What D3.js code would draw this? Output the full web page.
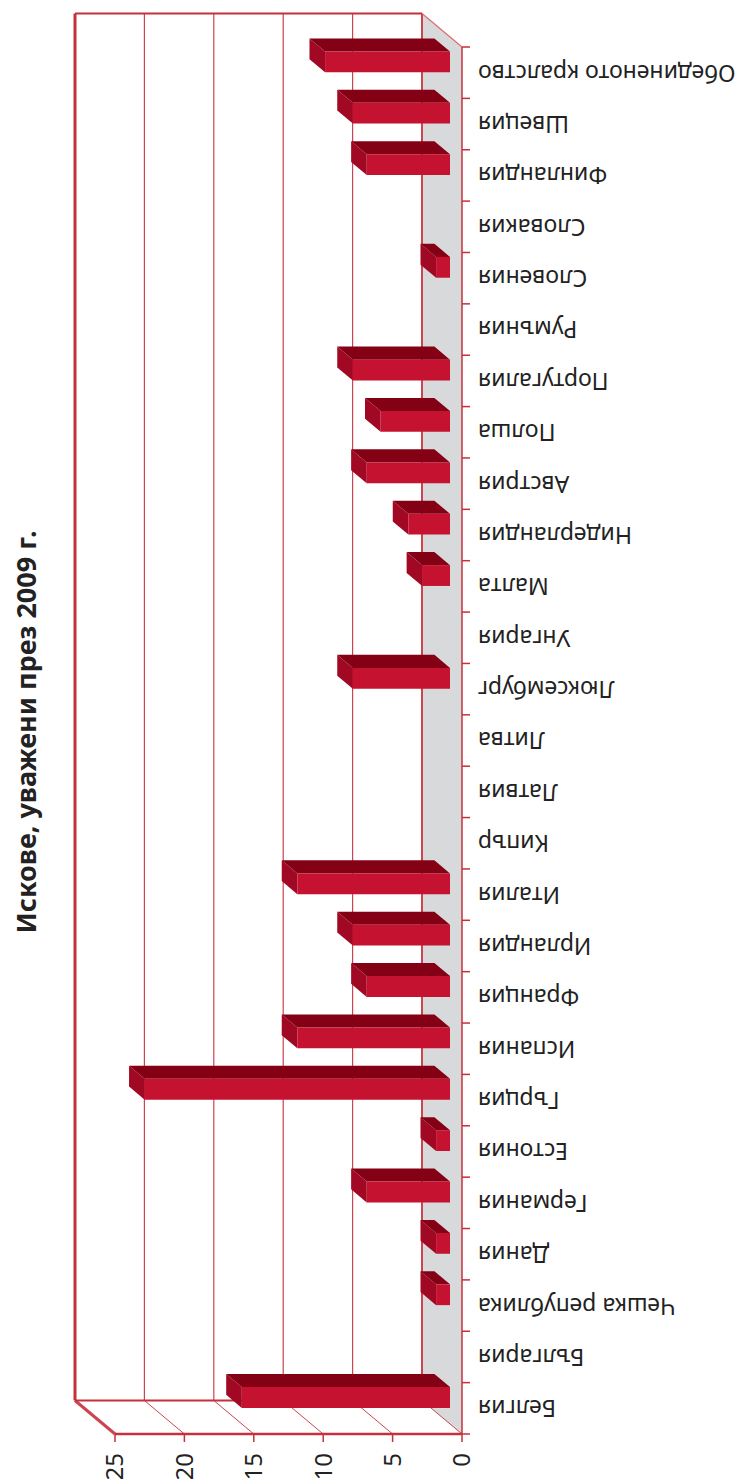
<!DOCTYPE html>
<html>
<head>
<meta charset="utf-8">
<script src="https://cdn.jsdelivr.net/npm/d3@7"></script>
<style>
  body { margin: 0; background: #fff; }
  svg { display: block; font-family: "Noto Sans", sans-serif; }
</style>
</head>
<body>
<div id="chart"></div>
<script>
const countries = ["Белгия", "България", "Чешка република", "Дания", "Германия", "Естония",
  "Гърция", "Испания", "Франция", "Ирландия", "Италия", "Кипър", "Латвия", "Литва",
  "Люксембург", "Унгария", "Малта", "Нидерландия", "Австрия", "Полша", "Португалия",
  "Румъния", "Словения", "Словакия", "Финландия", "Швеция", "Обединеното кралство"];
const values = [15, 0, 1, 1, 6, 1, 22, 11, 6, 7, 11, 0, 0, 0, 7, 0, 2, 3, 6, 5, 7, 0, 1, 0, 6, 7, 9];
const ticks = [0, 5, 10, 15, 20, 25];
const title = "Искове, уважени през 2009 г.";

const W = 736, H = 1479;
const red = "#c5303c", gridRed = "#cc4450";
// depth vector of the 3D box (front -> back)
const DX = -40, DY = -33.5;

const svg = d3.select("#chart").append("svg").attr("width", W).attr("height", H);

// value scale on the front plane (the chart is turned: 0 on the right)
const x = d3.scaleLinear().domain([0, 25]).range([462, 115]);
const y = d3.scaleBand().domain(countries).range([1434, 47]);
const P = (v, yy, d) => [x(v) + d * DX, yy + d * DY];

const yTop = y.range()[1], yBot = y.range()[0];

// floor (grey)
svg.append("polygon")
  .attr("points", [P(0, yTop, 0), P(0, yTop, 1), P(0, yBot, 1), P(0, yBot, 0)].join(" "))
  .attr("fill", "#d8d9db");

// back wall
svg.append("rect")
  .attr("x", x(25) + DX).attr("y", yTop + DY)
  .attr("width", x(0) - x(25)).attr("height", yBot - yTop)
  .attr("fill", "#fff");

// side wall (bottom)
svg.append("polygon")
  .attr("points", [P(25, yBot, 1), P(0, yBot, 1), P(0, yBot, 0), P(25, yBot, 0)].join(" "))
  .attr("fill", "#fff");

// grid lines on back wall and side wall
svg.selectAll(".vgrid").data(ticks).enter().append("line")
  .attr("x1", d => P(d, yTop, 1)[0]).attr("y1", yTop + DY)
  .attr("x2", d => P(d, yBot, 1)[0]).attr("y2", yBot + DY)
  .attr("stroke", (d) => d === 25 ? red : gridRed)
  .attr("stroke-width", d => d === 25 ? 3 : d === 0 ? 2 : 1.2);

svg.selectAll(".dgrid").data(ticks).enter().append("line")
  .attr("x1", d => P(d, yBot, 1)[0]).attr("y1", d => P(d, yBot, 1)[1])
  .attr("x2", d => P(d, yBot, 0)[0]).attr("y2", d => P(d, yBot, 0)[1])
  .attr("stroke", gridRed)
  .attr("stroke-width", d => d === 25 ? 3 : 1);

// outline of the box
svg.append("line")
  .attr("x1", x(25) + DX).attr("y1", yTop + DY).attr("x2", x(0) + DX).attr("y2", yTop + DY)
  .attr("stroke", red).attr("stroke-width", 2);
svg.append("line")
  .attr("x1", x(0) + DX).attr("y1", yTop + DY).attr("x2", x(0)).attr("y2", yTop)
  .attr("stroke", "#e06a70").attr("stroke-width", 1.2);
svg.append("line")
  .attr("x1", x(25) + DX).attr("y1", yBot + DY).attr("x2", x(0) + DX).attr("y2", yBot + DY)
  .attr("stroke", red).attr("stroke-width", 2);
svg.append("line")
  .attr("x1", x(25)).attr("y1", yBot).attr("x2", x(0)).attr("y2", yBot)
  .attr("stroke", red).attr("stroke-width", 2.5);

// category axis (right)
svg.append("line")
  .attr("x1", x(0)).attr("y1", yTop).attr("x2", x(0)).attr("y2", yBot)
  .attr("stroke", red).attr("stroke-width", 1.5);
const bounds = countries.map(c => y(c)).concat([yBot]);
svg.selectAll(".ctick").data(bounds).enter().append("line")
  .attr("x1", x(0)).attr("x2", x(0) + 8)
  .attr("y1", d => d).attr("y2", d => d)
  .attr("stroke", red).attr("stroke-width", 1.5);

// value ticks (bottom)
svg.selectAll(".vtick").data(ticks).enter().append("line")
  .attr("x1", d => x(d)).attr("x2", d => x(d))
  .attr("y1", yBot).attr("y2", yBot + 8)
  .attr("stroke", red).attr("stroke-width", 1.5);

svg.selectAll(".vlabel").data(ticks).enter().append("text")
  .attr("transform", d => `translate(${x(d)},${yBot + 19}) rotate(-90)`)
  .attr("text-anchor", "end")
  .attr("dy", "0.35em")
  .attr("font-size", 24)
  .attr("fill", "#222")
  .text(d => d);

// bars
const bf = 0.3, bb = 0.69, off = 14.5, bh = 20.8;
const data = countries.map((c, i) => ({ c, v: values[i] })).filter(d => d.v > 0);
const bar = svg.selectAll(".bar").data(data).enter().append("g");

bar.append("polygon") // upper side
  .attr("points", d => {
    const t = y(d.c) + off;
    return [P(d.v, t, bf), P(0, t, bf), P(0, t, bb), P(d.v, t, bb)].join(" ");
  })
  .attr("fill", "#840015");

bar.append("polygon") // end cap
  .attr("points", d => {
    const t = y(d.c) + off;
    return [P(d.v, t, bf), P(d.v, t + bh, bf), P(d.v, t + bh, bb), P(d.v, t, bb)].join(" ");
  })
  .attr("fill", "#a00824");

bar.append("polygon") // front face
  .attr("points", d => {
    const t = y(d.c) + off;
    return [P(d.v, t, bf), P(0, t, bf), P(0, t + bh, bf), P(d.v, t + bh, bf)].join(" ");
  })
  .attr("fill", "#c41230");

// category labels (upside down)
svg.selectAll(".clabel").data(countries).enter().append("text")
  .attr("transform", d => `translate(${x(0) + 16},${y(d) + y.bandwidth() / 2}) rotate(180)`)
  .attr("text-anchor", "end")
  .attr("dy", "0.35em")
  .attr("font-size", 23)
  .attr("fill", "#222")
  .text(d => d);

// title
svg.append("text")
  .attr("transform", "translate(27,732) rotate(-90)")
  .attr("text-anchor", "middle")
  .attr("dy", "0.35em")
  .attr("font-size", 27)
  .attr("font-weight", "bold")
  .attr("fill", "#222")
  .text(title);
</script>
</body>
</html>
